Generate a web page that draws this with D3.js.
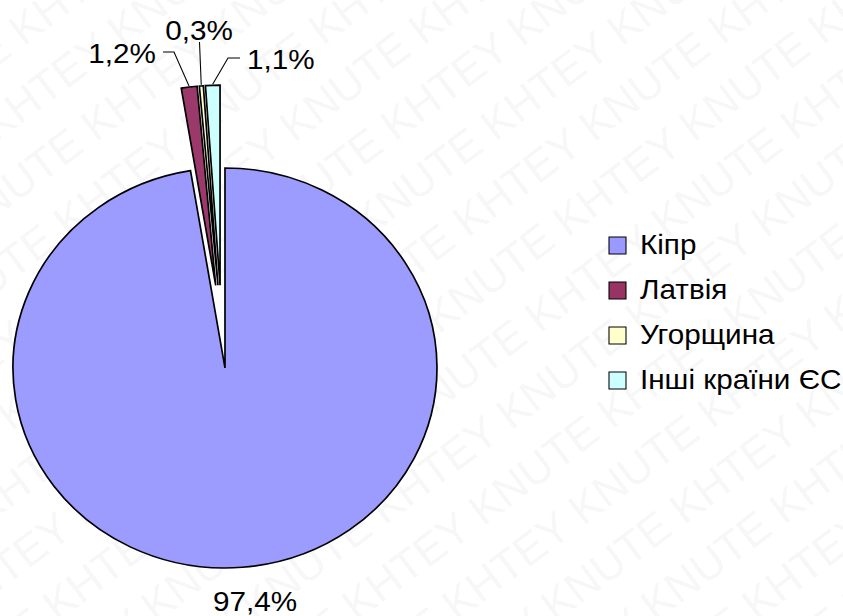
<!DOCTYPE html>
<html lang="uk">
<head>
<meta charset="UTF-8">
<title>Pie chart</title>
<script src="https://d3js.org/d3.v7.min.js"></script>
<style>
  body { margin: 0; background: #fff; }
  svg { display: block; font-family: Arial, "Liberation Sans", sans-serif; }
</style>
</head>
<body>
<div id="chart"></div>
<script>
// data
const categories = ["Кіпр", "Латвія", "Угорщина", "Інші країни ЄС"];
const shares = [97.4, 1.2, 0.3, 1.1];
const colors = ["#9999FF", "#993366", "#FFFFCC", "#CCFFFF"];

const width = 843, height = 616;
const sx = 1.06;              // picture is stretched a little horizontally
const radius = 200;
const center = [221.7, 330.1]; // in picture pixels
const explode = [38, 45, 45, 45];

// label placement, picture pixels
const labelPos = [
  { x: 255, y: 611, anchor: "middle" },
  { x: 156, y: 63, anchor: "end" },
  { x: 199, y: 40, anchor: "middle" },
  { x: 247, y: 69, anchor: "start" }
];
// leader line start points (null = no leader)
const leaderStart = [null, [[163, 52], [174, 52]], [[199.5, 42]], [[240, 58], [228, 58]]];

const fmt = v => d3.format(".1f")(v).replace(".", ",") + "%";

const svg = d3.select("#chart").append("svg")
  .attr("width", width).attr("height", height);

// watermark (drawn first, kept faint)
const wm = svg.append("g")
  .attr("transform", `rotate(-37 ${width / 2} ${height / 2})`)
  .attr("fill", "#000").attr("fill-opacity", 0.055)
  .attr("font-size", 44);
d3.range(-6, 18).forEach(i => {
  wm.append("text")
    .attr("x", -300 + (i % 2) * 80)
    .attr("y", -200 + i * 60)
    .text(d3.range(9).map(() => "KNUTE KHTEY").join(" "));
});

const g = svg.append("g").attr("transform", `scale(${sx},1)`);

const pie = d3.pie().sort(null).value(d => d);
const arcs = pie(shares);
const arc = d3.arc().innerRadius(0).outerRadius(radius);

function offset(d, i) {
  const a = (d.startAngle + d.endAngle) / 2;
  return [Math.sin(a) * explode[i], -Math.cos(a) * explode[i]];
}

const pieG = g.append("g")
  .attr("transform", `translate(${center[0] / sx},${center[1]})`);

pieG.selectAll("path")
  .data(arcs)
  .join("path")
  .attr("d", arc)
  .attr("transform", (d, i) => { const o = offset(d, i); return `translate(${o[0]},${o[1]})`; })
  .attr("fill", (d, i) => colors[i])
  .attr("fill-opacity", 0.97)
  .attr("stroke", "#000")
  .attr("stroke-width", 1.6)
  .attr("stroke-linejoin", "miter");

// leader lines
const outer = (d, i) => {
  const a = (d.startAngle + d.endAngle) / 2;
  const o = offset(d, i);
  return [center[0] / sx + o[0] + Math.sin(a) * (radius + 1),
          center[1] + o[1] - Math.cos(a) * (radius + 1)];
};
const line = d3.line();
arcs.forEach((d, i) => {
  if (!leaderStart[i]) return;
  const pts = leaderStart[i].map(p => [p[0] / sx, p[1]]);
  pts.push(outer(d, i));
  g.append("path")
    .attr("d", line(pts))
    .attr("fill", "none")
    .attr("stroke", "#000")
    .attr("stroke-width", 1);
});

// data labels
g.selectAll("text.lbl")
  .data(arcs)
  .join("text")
  .attr("class", "lbl")
  .attr("x", (d, i) => labelPos[i].x / sx)
  .attr("y", (d, i) => labelPos[i].y)
  .attr("text-anchor", (d, i) => labelPos[i].anchor)
  .attr("font-size", 28)
  .attr("fill", "#000")
  .text(d => fmt(d.data));

// legend
const legend = g.append("g")
  .attr("transform", `translate(${609 / sx},237)`);
const item = legend.selectAll("g")
  .data(categories)
  .join("g")
  .attr("transform", (d, i) => `translate(0,${i * 45})`);
item.append("rect")
  .attr("width", 17 / sx).attr("height", 17)
  .attr("fill", (d, i) => colors[i])
  .attr("stroke", "#000").attr("stroke-width", 1);
item.append("text")
  .attr("x", 31 / sx).attr("y", 17)
  .attr("font-size", 28)
  .attr("fill", "#000")
  .text(d => d);
</script>
</body>
</html>
